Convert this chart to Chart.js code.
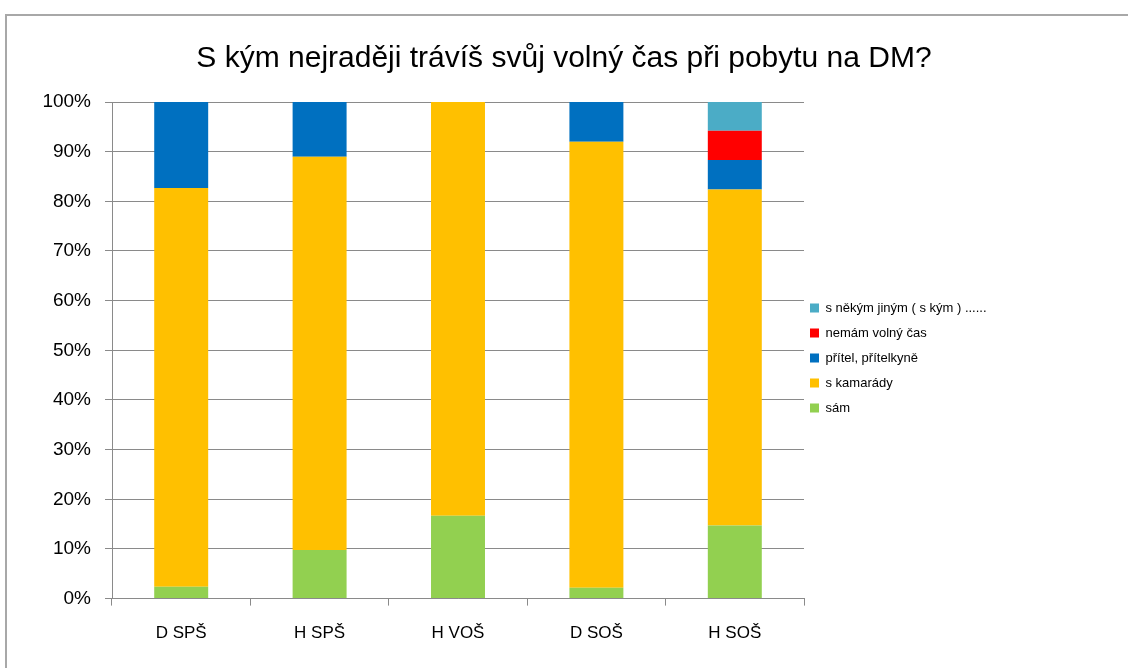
<!DOCTYPE html>
<html>
<head>
<meta charset="utf-8">
<script src="https://cdn.jsdelivr.net/npm/chart.js@4.4.1/dist/chart.umd.min.js"></script>
<style>
  body { margin: 0; background: #fff; }
  #frame {
    position: absolute; left: 5px; top: 14px; width: 1140px; height: 660px;
    border: 2px solid #a8a8a8; box-sizing: border-box;
  }
  #wrap { position: absolute; left: 0; top: 0; width: 1128px; height: 668px; }
</style>
</head>
<body>
<div id="frame"></div>
<div id="wrap"><canvas id="chart" width="1128" height="668"></canvas></div>
<script>
// chart data
const categories = ["D SPŠ", "H SPŠ", "H VOŠ", "D SOŠ", "H SOŠ"];
const samValues = [2.4, 9.8, 16.7, 2.2, 14.7];
const kamaradyValues = [80.3, 79.2, 83.3, 89.8, 67.7];
const pritelValues = [17.3, 11.0, 0, 8.0, 5.9];
const nemamValues = [0, 0, 0, 0, 5.9];
const jinyValues = [0, 0, 0, 0, 5.8];
const seriesNames = ["sám", "s kamarády", "přítel, přítelkyně", "nemám volný čas", "s někým jiným ( s kým ) ......"];
const yTicks = [0, 10, 20, 30, 40, 50, 60, 70, 80, 90, 100];

const titleText = "S kým nejraději trávíš svůj volný čas při pobytu na DM?";
const sans = "'Liberation Sans', Arial, sans-serif";
const gridColor = "#8a8a8a";

// sizes of the plot box
const yAxisWidth = 112;
const legendWidth = 324;

function makeSet(name, values, color) {
  return {
    label: name,
    data: values,
    backgroundColor: color,
    borderWidth: 0,
    categoryPercentage: 1,
    barPercentage: 0.39
  };
}

// keep the legend wide so the plot stops where the original does
const legendWidthPlugin = {
  id: "legendWidth",
  afterInit(chart) {
    const lg = chart.legend;
    const origFit = lg.fit;
    lg.fit = function() {
      origFit.call(this);
      this.width = legendWidth;
    };
  },
  afterLayout(chart) {
    // pull the legend items a bit closer to the plot
    chart.legend.left -= 6;
    chart.legend.right -= 6;
  }
};

const ctx = document.getElementById("chart");
new Chart(ctx, {
  type: "bar",
  data: {
    labels: categories,
    datasets: [
      makeSet(seriesNames[0], samValues, "#92D050"),
      makeSet(seriesNames[1], kamaradyValues, "#FFC000"),
      makeSet(seriesNames[2], pritelValues, "#0070C0"),
      makeSet(seriesNames[3], nemamValues, "#FF0000"),
      makeSet(seriesNames[4], jinyValues, "#4BACC6")
    ]
  },
  plugins: [legendWidthPlugin],
  options: {
    responsive: false,
    animation: false,
    layout: { padding: { left: 0, right: 0, top: 41, bottom: 6 } },
    plugins: {
      title: {
        display: true,
        text: titleText,
        color: "#000",
        font: { family: sans, size: 30, weight: "normal" },
        padding: { top: 0, bottom: 25 }
      },
      legend: {
        position: "right",
        fullSize: false,
        reverse: true,
        title: { display: true, text: "", font: { size: 13 }, padding: 0 },
        labels: {
          color: "#000",
          font: { family: sans, size: 13 },
          boxWidth: 9,
          boxHeight: 9,
          padding: 12
        }
      },
      tooltip: { enabled: false }
    },
    scales: {
      x: {
        stacked: true,
        grid: { display: true, drawOnChartArea: false, drawTicks: true, tickLength: 7, color: gridColor },
        border: { color: gridColor },
        ticks: { color: "#000", font: { family: sans, size: 17 }, padding: 18 }
      },
      y: {
        stacked: true,
        min: 0,
        max: 100,
        afterBuildTicks: (scale) => { scale.ticks = yTicks.map(v => ({ value: v })); },
        afterFit: (scale) => { scale.width = yAxisWidth; },
        grid: { color: gridColor, tickLength: 7 },
        border: { color: gridColor },
        ticks: { color: "#000", font: { family: sans, size: 19 }, padding: 14, callback: v => v + "%" }
      }
    }
  }
});
</script>
</body>
</html>
